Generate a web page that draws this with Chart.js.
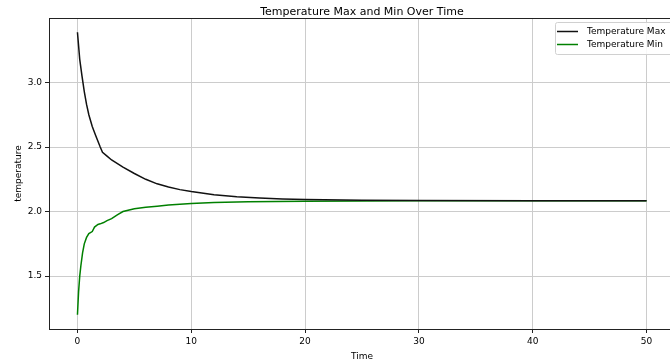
<!DOCTYPE html>
<html>
<head>
<meta charset="utf-8">
<script src="https://cdn.jsdelivr.net/npm/chart.js@4.4.0/dist/chart.umd.min.js"></script>
<style>
  body { margin: 0; background: #fff; overflow: hidden; }
  #wrap { position: relative; width: 670px; height: 362px; overflow: hidden; }
  #box { position: absolute; left: 0; top: 0; width: 680px; height: 362px; }
  #titulo { position: absolute; left: 0; width: 724px; top: 5px; line-height: 13px; text-align: center;
    font-family: 'DejaVu Sans'; font-size: 11px; color: #000; }
</style>
</head>
<body>
<div id="wrap">
  <div id="box"><canvas id="myChart" width="680" height="362"></canvas></div>
  <div id="titulo">Temperature Max and Min Over Time</div>
</div>
<script>
// datos
let tiempoMax = [0, 0.2, 0.4, 0.6, 0.8, 1.0, 1.3, 1.6, 2.0, 2.2, 2.6, 3, 4, 5, 6, 7, 8, 9, 10, 12, 14, 16, 18, 20, 25, 30, 40, 50];
let tempMax   = [3.39, 3.18, 3.05, 2.93, 2.83, 2.75, 2.66, 2.59, 2.50, 2.46, 2.43, 2.40, 2.345, 2.295, 2.25, 2.215, 2.19, 2.17, 2.155, 2.13, 2.115, 2.105, 2.098, 2.093, 2.087, 2.085, 2.083, 2.083];
let tiempoMin = [0, 0.1, 0.2, 0.3, 0.45, 0.6, 0.8, 1.0, 1.3, 1.5, 1.8, 2.0, 2.3, 2.6, 3.0, 3.5, 4.0, 5, 6, 7, 8, 10, 12, 15, 20, 25, 30, 50];
let tempMin   = [1.20, 1.38, 1.50, 1.58, 1.68, 1.75, 1.80, 1.83, 1.845, 1.88, 1.90, 1.905, 1.915, 1.93, 1.945, 1.975, 2.0, 2.022, 2.033, 2.042, 2.05, 2.063, 2.07, 2.076, 2.08, 2.082, 2.083, 2.083];
let ticksX = [0, 10, 20, 30, 40, 50];
let ticksY = [1.5, 2.0, 2.5, 3.0];
let etiquetas = ['Temperature Max', 'Temperature Min'];
let colores = ['#111111', 'green'];

function puntos(xs, ys){
  return xs.map((x, i) => ({ x: x, y: ys[i] }));
}

// marco y leyenda al estilo matplotlib
const marco = {
  id: 'marco',
  afterDraw(chart){
    let ctx = chart.ctx;
    let a = chart.chartArea;
    ctx.save();
    ctx.strokeStyle = '#222';
    ctx.lineWidth = 1;
    ctx.strokeRect(a.left + 0.5, a.top + 0.5, a.right - a.left, a.bottom - a.top);
    // leyenda
    let x0 = 555, y0 = 22, w = 118, h = 32;
    ctx.fillStyle = 'rgba(255,255,255,0.85)';
    ctx.strokeStyle = '#d0d0d0';
    ctx.beginPath();
    ctx.roundRect(x0 + 0.5, y0 + 0.5, w, h, 2);
    ctx.fill();
    ctx.stroke();
    ctx.font = '9px "DejaVu Sans"';
    ctx.textBaseline = 'middle';
    for (var i = 0; i < etiquetas.length; i++) {
      let yy = y0 + 9.5 + i * 13;
      ctx.strokeStyle = colores[i];
      ctx.lineWidth = 1.5;
      ctx.beginPath();
      ctx.moveTo(557, yy);
      ctx.lineTo(578, yy);
      ctx.stroke();
      ctx.fillStyle = '#000';
      ctx.fillText(etiquetas[i], 587, yy);
    }
    ctx.restore();
  }
};

let ctx = document.getElementById('myChart').getContext('2d');
let chart = new Chart(ctx, {
  type: 'line',
  data: {
    datasets: [{
      label: etiquetas[0],
      data: puntos(tiempoMax, tempMax),
      borderColor: colores[0],
      borderWidth: 1.5,
      pointRadius: 0,
      tension: 0
    }, {
      label: etiquetas[1],
      data: puntos(tiempoMin, tempMin),
      borderColor: colores[1],
      borderWidth: 1.5,
      pointRadius: 0,
      tension: 0
    }]
  },
  options: {
    responsive: false,
    animation: false,
    layout: { padding: { top: 18, right: 5, left: 0, bottom: 0 } },
    plugins: {
      legend: { display: false },
      title: { display: false },
      tooltip: { enabled: false }
    },
    scales: {
      x: {
        type: 'linear',
        min: -2.5,
        max: 52.5,
        afterBuildTicks: s => { s.ticks = ticksX.map(v => ({ value: v })); },
        afterFit: s => { s.height = 33; },
        ticks: { color: '#000', font: { family: 'DejaVu Sans', size: 9 }, padding: 3, maxRotation: 0 },
        grid: { color: '#cccccc', tickColor: '#222', tickLength: 4 },
        border: { display: false },
        title: { display: true, text: 'Time', color: '#000', font: { family: 'DejaVu Sans', size: 9 }, padding: { top: 5, bottom: 0 } }
      },
      y: {
        min: 1.09,
        max: 3.5,
        afterBuildTicks: s => { s.ticks = ticksY.map(v => ({ value: v })); },
        afterFit: s => { s.width = 49; },
        ticks: { color: '#000', font: { family: 'DejaVu Sans', size: 9 }, padding: 3, callback: v => v.toFixed(1) },
        grid: { color: '#cccccc', tickColor: '#222', tickLength: 4 },
        border: { display: false },
        title: { display: true, text: 'temperature', color: '#000', font: { family: 'DejaVu Sans', size: 9 }, padding: { top: 13, bottom: 0 } }
      }
    }
  },
  plugins: [marco]
});
</script>
</body>
</html>
